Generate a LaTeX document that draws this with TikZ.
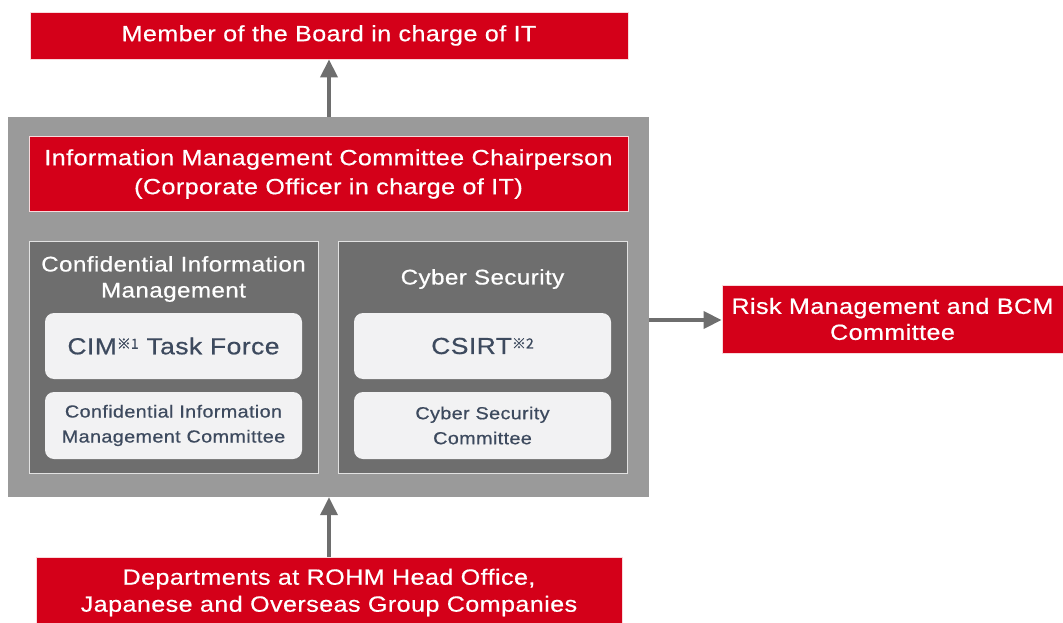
\documentclass[tikz,border=0pt]{standalone}
\usepackage{fontspec}
\setmainfont{Liberation Sans}[FakeStretch=1.14, LetterSpace=2, FakeBold=0.6]
\newfontfamily\cjkmark{Noto Sans CJK JP}[FakeBold=0.8]
\usetikzlibrary{arrows.meta}
\definecolor{rohmred}{HTML}{D40019}
\definecolor{outergray}{HTML}{9A9A9A}
\definecolor{panelgray}{HTML}{6E6E6E}
\definecolor{lightbox}{HTML}{F2F2F3}
\definecolor{slate}{HTML}{3D4A5E}
\definecolor{arrowgray}{HTML}{6E6E6E}
\newcommand{\refmark}[1]{\raisebox{5.5pt}[0pt][0pt]{\cjkmark\fontsize{14}{14}\selectfont ※#1}}
\tikzset{
  redbox/.style={fill=rohmred, draw=white!85!rohmred, line width=0.8pt, text=white, align=center,
    font=\fontsize{22}{29}\selectfont, inner sep=0pt},
  panel/.style={fill=panelgray, draw=white!80!panelgray, line width=0.8pt, inner sep=0pt},
  lbox/.style={fill=lightbox, rounded corners=9pt, draw=none, text=slate, align=center, inner sep=0pt},
  flow/.style={draw=arrowgray, line width=3.5pt, -{Triangle[width=17pt,length=18pt]}},
}
\begin{document}
\begin{tikzpicture}[x=1pt,y=-1pt]
\clip (0,0) rectangle (1063,623);
\fill[white] (0,0) rectangle (1063,623);
% outer gray box
\node[fill=outergray, inner sep=0pt, minimum width=641pt, minimum height=380pt] (outer) at (328.5,307) {};
% top box
\node[redbox, minimum width=598pt, minimum height=47pt] (board) at (329,35.5) {Member of the Board in charge of IT};
% chairperson
\node[redbox, minimum width=599pt, minimum height=75pt] (chair) at (328.5,174) {Information Management Committee Chairperson\\(Corporate Officer in charge of IT)};
% panels
\node[panel, minimum width=289pt, minimum height=232pt] (lpanel) at (173.5,357) {};
\node[panel, minimum width=289pt, minimum height=232pt] (rpanel) at (482.5,357) {};
\node[text=white, align=center, font=\fontsize{21.2}{26}\selectfont] (ltitle) at (173.5,279) {Confidential Information\\Management};
\node[text=white, align=center, font=\fontsize{21.2}{26}\selectfont] (rtitle) at (482.5,279) {Cyber Security};
% inner boxes
\node[lbox, minimum width=257pt, minimum height=66pt, font=\fontsize{23.2}{28}\selectfont] (cim) at (173.5,346) {CIM\refmark{1} Task Force};
\node[lbox, minimum width=257pt, minimum height=67pt, font=\fontsize{17.4}{25}\selectfont] (cimc) at (173.5,425.5) {Confidential Information\\Management Committee};
\node[lbox, minimum width=257pt, minimum height=66pt, font=\fontsize{23.2}{28}\selectfont] (csirt) at (482.5,346) {CSIRT\refmark{2}};
\node[lbox, minimum width=257pt, minimum height=67pt, font=\fontsize{17.4}{25}\selectfont] (csc) at (482.5,425.5) {Cyber Security\\Committee};
% risk box
\node[redbox, minimum width=341pt, minimum height=68pt, font=\fontsize{22}{26}\selectfont] (risk) at (892.5,319) {Risk Management and BCM\\Committee};
% bottom box
\node[redbox, minimum width=586pt, minimum height=71pt, font=\fontsize{22}{27}\selectfont] (dept) at (329,592.5) {Departments at ROHM Head Office,\\Japanese and Overseas Group Companies};
% connectors
\draw[flow] (outer.north -| board.south) -- (board.south);
\draw[flow] (outer.east |- 0,320) -- (risk.west |- 0,320);
\draw[flow] (dept.north) -- (outer.south -| dept.north);
\end{tikzpicture}
\end{document}
